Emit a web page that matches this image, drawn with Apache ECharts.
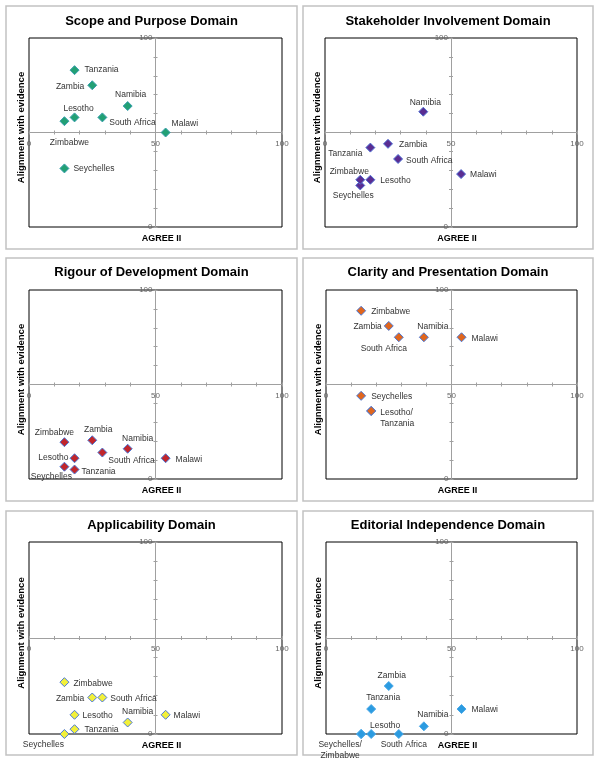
<!DOCTYPE html>
<html><head><meta charset="utf-8">
<script src="https://cdn.jsdelivr.net/npm/echarts@6/dist/echarts.min.js"></script>
<style>html,body{margin:0;padding:0;background:#fff}#c{width:600px;height:762px}</style>
</head><body><div id="c"></div>
<script>
// ---------- data ----------
const countries = ['Lesotho','Malawi','Namibia','Seychelles','South Africa','Tanzania','Zambia','Zimbabwe'];
const agreeScores = [18, 54, 39, 14, 29, 18, 25, 14];
const scopeAlign = [58, 50, 64, 31, 58, 83, 75, 56];
const stakeholderAlign = [25, 28, 61, 22, 36, 42, 44, 25];
const rigourAlign = [11, 11, 16, 6.5, 14, 5, 20.5, 19.5];
const clarityAlign = [36, 75, 75, 44, 75, 36, 81, 89];
const applicabilityAlign = [10, 10, 6, 0, 19, 2.5, 19, 27];
const editorialAlign = [0, 13, 4, 0, 0, 13, 25, 0];
const domainTitles = ['Scope and Purpose Domain','Stakeholder Involvement Domain','Rigour of Development Domain','Clarity and Presentation Domain','Applicability Domain','Editorial Independence Domain'];
const xTickLabels = [0, 50, 100];
const yTickLabels = [0, 100];
const clarityLabels = ['Lesotho/\nTanzania','Malawi','Namibia','Seychelles','South Africa','','Zambia','Zimbabwe'];
const editorialLabels = ['Lesotho','Malawi','Namibia','Seychelles/\nZimbabwe','South Africa','Tanzania','Zambia',''];
const xAxisTitle = 'AGREE II';
const yAxisTitle = 'Alignment with evidence';

// ---------- layout / style ----------
const domainValues = [scopeAlign, stakeholderAlign, rigourAlign, clarityAlign, applicabilityAlign, editorialAlign];
const domainLabels = [countries, countries, countries, clarityLabels, countries, editorialLabels];
const panels = [
  {box:[6,6,291,243],   grid:[29,38,253,189],  titleY:21},
  {box:[303,6,290,243], grid:[325,38,252,189], titleY:21},
  {box:[6,258,291,243], grid:[29,290,253,189], titleY:272},
  {box:[303,258,290,243], grid:[326,290,251,189], titleY:272},
  {box:[6,511,291,244], grid:[29,542,253,192], titleY:525},
  {box:[303,511,290,244], grid:[326,542,251,192], titleY:525}
];
const markerStyles = [
  {color:'#22a074', borderColor:'#3a9fae'},
  {color:'#5a2d92', borderColor:'#4f6fd2'},
  {color:'#c0262c', borderColor:'#4a78d6'},
  {color:'#e0661e', borderColor:'#4a78d6'},
  {color:'#f2f03a', borderColor:'#4a78d6'},
  {color:'#2b9be0', borderColor:'#4aa8e8'}
];
// label placements [position, dx, dy] in country order
const labelPlacements = [
  [['top',4,5],['right',-2,-9],['top',3,2],['right',1,0],['right',-1,5],['right',2,0],['left',0,1],['bottom',5,8]],
  [['right',2,1],['right',1,1],['top',2,4],['bottom',-7,-3],['right',0,2],['left',0,6],['right',3,1],['top',-11,5]],
  [['left',2,-1],['right',2,1],['top',10,3],['bottom',-13,-4],['right',-2,8],['right',-1,2],['top',6,3],['top',-10,4]],
  [['right',1,7],['right',2,1],['top',9,3],['right',2,1],['bottom',-15,-2],['right',0,0],['left',1,1],['right',2,1]],
  [['right',0,1],['right',0,1],['top',10,3],['bottom',-21,-3],['right',0,1],['right',2,0],['left',0,1],['right',1,1]],
  [['top',14,5],['right',2,1],['top',9,2],['bottom',-21,-3],['bottom',5,-3],['top',12,2],['top',3,3],['right',0,0]]
];
const axisGray = '#a0a0a0';
const FONT = '"Liberation Sans", Arial, sans-serif';

const option = {
  animation:false,
  textStyle:{fontFamily:FONT},
  title:[], grid:[], xAxis:[], yAxis:[], series:[], graphic:[]
};

panels.forEach((p, i) => {
  const [gx, gy, gw, gh] = p.grid;
  option.graphic.push({type:'rect', silent:true, z:-10,
    shape:{x:p.box[0], y:p.box[1], width:p.box[2], height:p.box[3]},
    style:{fill:'none', stroke:'#c2c2c2', lineWidth:1.5}});
  option.title.push({text:domainTitles[i], left:p.box[0] + p.box[2]/2, top:p.titleY - 6, textAlign:'center', padding:0,
    textStyle:{fontSize:13, fontWeight:'bold', color:'#000', fontFamily:FONT}});
  option.grid.push({left:gx, top:gy, width:gw, height:gh, show:true, borderColor:'#000', borderWidth:1,
    backgroundColor:'transparent', containLabel:false, outerBoundsMode:'none'});
  const xBase = {gridIndex:i, type:'value', min:0, max:100, interval:10, position:'bottom', offset:-gh/2, splitLine:{show:false}};
  const yBase = {gridIndex:i, type:'value', min:0, max:100, interval:10, position:'left', offset:-gw/2, splitLine:{show:false}};
  option.xAxis.push(Object.assign({}, xBase, {
    axisLine:{show:true, onZero:false, lineStyle:{color:axisGray, width:1}},
    axisTick:{show:true, length:2, lineStyle:{color:axisGray}},
    axisLabel:{show:true, fontSize:8, color:'#666', margin:7, showMinLabel:true, showMaxLabel:true,
      formatter:v => xTickLabels.includes(v) ? String(v) : ''},
    name:xAxisTitle, nameLocation:'middle', nameGap:gh/2 + 7,
    nameTextStyle:{fontSize:9, fontWeight:'bold', color:'#000', padding:[0,0,0,12]}
  }));
  option.xAxis.push(Object.assign({}, xBase, {
    axisLine:{show:false, onZero:false}, axisTick:{show:true, inside:true, length:2, lineStyle:{color:axisGray}},
    axisLabel:{show:false}
  }));
  option.yAxis.push(Object.assign({}, yBase, {
    axisLine:{show:true, onZero:false, lineStyle:{color:axisGray, width:1}},
    axisTick:{show:true, length:2, lineStyle:{color:axisGray}},
    axisLabel:{show:true, fontSize:8, color:'#666', margin:3, showMinLabel:true, showMaxLabel:true,
      formatter:v => yTickLabels.includes(v) ? String(v) : ''},
    name:yAxisTitle, nameLocation:'middle', nameGap:gw/2 + 3,
    nameTextStyle:{fontSize:9.5, fontWeight:'bold', color:'#000', padding:[0,0,0,10]}
  }));
  option.yAxis.push(Object.assign({}, yBase, {
    axisLine:{show:false, onZero:false}, axisTick:{show:true, inside:true, length:2, lineStyle:{color:axisGray}},
    axisLabel:{show:false}
  }));
  const vals = domainValues[i];
  const labs = domainLabels[i];
  option.series.push({
    type:'scatter', xAxisIndex:2*i, yAxisIndex:2*i, clip:false,
    symbol:'diamond', symbolSize:9,
    itemStyle:{color:markerStyles[i].color, borderColor:markerStyles[i].borderColor, borderWidth:1, opacity:1},
    label:{show:true, fontSize:8.5, color:'#333', distance:3, lineHeight:11, fontFamily:FONT},
    emphasis:{disabled:true},
    data: countries.map((c, k) => {
      const pl = labelPlacements[i][k];
      return {name:c, value:[agreeScores[k], vals[k]],
        label:{show: labs[k] !== '', formatter: labs[k], position: pl[0], offset:[pl[1], pl[2]]}};
    })
  });
});

const chart = echarts.init(document.getElementById('c'), null, {renderer:'canvas'});
chart.setOption(option);
</script>
</body></html>
